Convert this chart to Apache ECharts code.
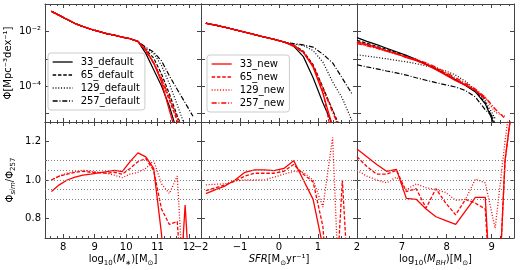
<!DOCTYPE html>
<html>
<head>
<meta charset="utf-8">
<script src="https://cdn.jsdelivr.net/npm/echarts@6/dist/echarts.min.js"></script>
<style>
html,body{margin:0;padding:0;background:#fff;}
#main{width:520px;height:270px;}
</style>
</head>
<body>
<div id="main"></div>
<script>
// bin centres
var xMstar = [7.625, 7.875, 8.125, 8.375, 8.625, 8.875, 9.125, 9.375, 9.625, 9.875, 10.125, 10.375, 10.625, 10.875, 11.125, 11.375, 11.625, 11.875, 12.125];
var xSfr = [-1.875, -1.625, -1.375, -1.125, -0.875, -0.625, -0.375, -0.125, 0.125, 0.375, 0.625, 0.875, 1.125, 1.375, 1.625, 1.875];
var xMbh = [6.0, 6.22, 6.44, 6.66, 6.88, 7.10, 7.32, 7.54, 7.76, 7.98, 8.20, 8.42, 8.64, 8.86, 9.08, 9.30, 9.52];

// log10 Phi, stellar mass function
var mstarDefault33  = [-1.25, -1.40, -1.55, -1.70, -1.81, -1.91, -1.99, -2.07, -2.13, -2.20, -2.26, -2.36, -2.80, -3.40, -4.00, -4.75, -5.70, null, null];
var mstarDefault65  = [-1.25, -1.40, -1.55, -1.70, -1.81, -1.91, -1.99, -2.07, -2.13, -2.20, -2.26, -2.36, -2.66, -2.97, -3.56, -4.30, -5.10, -5.80, null];
var mstarDefault129 = [-1.25, -1.40, -1.55, -1.70, -1.81, -1.91, -1.99, -2.07, -2.13, -2.20, -2.26, -2.36, -2.62, -2.80, -3.25, -3.92, -4.70, -5.50, null];
var mstarDefault257 = [-1.25, -1.40, -1.55, -1.70, -1.81, -1.91, -1.99, -2.07, -2.13, -2.20, -2.26, -2.36, -2.58, -2.75, -3.08, -3.63, -4.13, -4.62, -5.12];
var mstarNew33  = [-1.25, -1.40, -1.55, -1.70, -1.81, -1.91, -1.99, -2.07, -2.13, -2.20, -2.26, -2.36, -2.67, -3.15, -3.86, -4.90, -5.90, null, null];
var mstarNew65  = [-1.25, -1.40, -1.55, -1.70, -1.81, -1.91, -1.99, -2.07, -2.13, -2.20, -2.26, -2.36, -2.675, -3.15, -3.79, -4.53, -5.30, -6.00, null];
var mstarNew129 = [-1.25, -1.40, -1.55, -1.70, -1.81, -1.91, -1.99, -2.07, -2.13, -2.20, -2.26, -2.36, -2.695, -3.13, -3.73, -4.45, -5.19, -5.90, null];
var mstarNew257 = [-1.25, -1.40, -1.55, -1.70, -1.81, -1.91, -1.99, -2.07, -2.13, -2.20, -2.26, -2.36, -2.72, -3.17, -3.72, -4.42, -5.20, -5.95, null];

// log10 Phi, SFR function
var sfrDefault33  = [-1.69, -1.76, -1.84, -1.93, -2.02, -2.11, -2.20, -2.28, -2.38, -2.53, -2.92, -3.70, -4.62, -5.45, null, null];
var sfrDefault65  = [-1.69, -1.76, -1.84, -1.93, -2.02, -2.11, -2.20, -2.28, -2.38, -2.50, -2.72, -3.22, -4.05, -4.90, -5.70, null];
var sfrDefault129 = [-1.69, -1.76, -1.84, -1.93, -2.02, -2.11, -2.20, -2.28, -2.38, -2.46, -2.51, -2.70, -3.12, -3.85, -4.46, -5.30];
var sfrDefault257 = [-1.69, -1.76, -1.84, -1.93, -2.02, -2.11, -2.20, -2.28, -2.38, -2.44, -2.49, -2.57, -2.83, -3.15, -3.72, -4.30];
var sfrNew33  = [-1.69, -1.76, -1.84, -1.93, -2.02, -2.11, -2.20, -2.28, -2.38, -2.50, -2.76, -3.31, -4.27, -5.50, null, null];
var sfrNew65  = [-1.69, -1.76, -1.84, -1.93, -2.02, -2.11, -2.20, -2.28, -2.38, -2.51, -2.75, -3.265, -4.20, -5.98, -5.75, null];
var sfrNew129 = [-1.69, -1.76, -1.84, -1.93, -2.02, -2.11, -2.20, -2.28, -2.38, -2.52, -2.74, -3.26, -4.145, -4.89, -6.00, null];
var sfrNew257 = [-1.69, -1.76, -1.84, -1.93, -2.02, -2.11, -2.20, -2.28, -2.38, -2.54, -2.76, -3.26, -4.08, -4.98, -5.75, null];

// log10 Phi, BH mass function
var bhDefault33  = [-2.22, -2.36, -2.48, -2.61, -2.74, -2.87, -3.03, -3.20, -3.38, -3.58, -3.78, -3.98, -4.22, -4.66, -5.50, null, null];
var bhDefault65  = [-2.32, -2.43, -2.54, -2.65, -2.77, -2.89, -3.03, -3.19, -3.37, -3.56, -3.76, -3.96, -4.20, -4.62, -5.40, null, null];
var bhDefault129 = [-2.85, -2.90, -2.95, -3.00, -3.06, -3.11, -3.18, -3.26, -3.35, -3.45, -3.60, -3.83, -4.15, -4.55, -5.20, null, null];
var bhDefault257 = [-3.22, -3.30, -3.37, -3.45, -3.52, -3.60, -3.70, -3.79, -3.88, -3.96, -4.04, -4.17, -4.41, -4.88, -5.20, null, null];
var bhNew33  = [-2.38, -2.47, -2.58, -2.70, -2.81, -2.96, -3.07, -3.22, -3.40, -3.60, -3.81, -3.98, -4.16, -4.46, null, -5.16, null];
var bhNew65  = [-2.39, -2.49, -2.60, -2.71, -2.81, -2.95, -3.04, -3.22, -3.33, -3.56, -3.79, -3.95, -4.18, -4.49, null, -5.16, null];
var bhNew129 = [-2.42, -2.51, -2.61, -2.73, -2.82, -2.94, -3.03, -3.17, -3.33, -3.53, -3.75, -3.95, -4.12, -4.43, -4.97, -5.12, null];
var bhNew257 = [-2.44, -2.52, -2.61, -2.72, -2.83, -2.92, -3.02, -3.15, -3.31, -3.50, -3.70, -3.90, -4.12, -4.42, -4.85, -5.20, null];

// Phi_sim / Phi_257
var ratioMstar33  = [0.94, 0.975, 1.00, 1.015, 1.025, 1.03, 1.037, 1.043, 1.05, 1.043, 1.095, 1.14, 1.12, 1.06, 0.72, 0.0, 0.2, 0.87, 0.2];
var ratioMstar65  = [1.00, 1.02, 1.03, 1.04, 1.045, 1.04, 1.038, 1.035, 1.04, 1.03, 1.06, 1.095, 1.11, 1.05, 0.85, 0.77, 0.785, 0.2, null];
var ratioMstar129 = [1.00, 1.02, 1.035, 1.045, 1.05, 1.045, 1.04, 1.035, 1.025, 1.012, 1.03, 1.04, 1.06, 1.10, 0.98, 0.93, 1.02, 0.3, null];
var ratioSfr33  = [0.93, 0.95, 0.97, 1.00, 1.04, 1.052, 1.052, 1.048, 1.06, 1.10, 1.00, 0.90, 0.655, 0.2, null, null];
var ratioSfr65  = [0.945, 0.96, 0.975, 0.995, 1.02, 1.035, 1.035, 1.035, 1.045, 1.08, 1.03, 0.99, 0.76, 0.1, 1.0, 0.1];
var ratioSfr129 = [0.975, 0.978, 0.98, 0.995, 1.0, 1.0, 1.0, 1.015, 1.03, 1.045, 1.04, 1.0, 0.86, 1.22, 0.0, null];
var ratioBh33  = [1.16, 1.12, 1.08, 1.045, 1.055, 0.905, 0.90, 0.85, 0.81, 0.79, 0.77, 0.84, 0.91, 0.91, 0.0, 1.1, 1.5];
var ratioBh65  = [1.12, 1.07, 1.03, 1.03, 1.05, 0.94, 0.955, 0.855, 0.955, 0.88, 0.82, 0.90, 0.88, 0.85, 0.0, 1.1, 1.5];
var ratioBh129 = [1.05, 1.02, 1.00, 0.985, 1.015, 0.95, 0.98, 0.96, 0.95, 0.935, 0.895, 0.90, 1.005, 0.985, 0.75, 1.2, 1.6];

var refLevels = [0.9, 0.95, 1.0, 1.05, 1.1];

var defaultNames = ['33_default', '65_default', '129_default', '257_default'];
var newNames = ['33_new', '65_new', '129_new', '257_new'];

var FONT = 'DejaVu Sans';
var AXIS_COLOR = '#444';
var RED = '#ff0000';
var dashes = ['solid', [3.5, 1.8], [1, 1.8], [5, 1.8, 1, 1.8]];

var gridLeft = [45, 201, 357];
var gridWidth = [156, 156, 157];
var xRanges = [[7.42, 12.38], [-2, 2], [6, 9.5]];
var xSplit = [5, 5, 4];
var xHide = [null, null, 6];

var subStyle = {fontFamily: FONT, fontSize: 7, lineHeight: 8, verticalAlign: 'bottom', color: '#000'};
var subItStyle = {fontFamily: FONT, fontSize: 7, lineHeight: 8, verticalAlign: 'bottom', fontStyle: 'italic', color: '#000'};
var itStyle = {fontFamily: FONT, fontSize: 10, fontStyle: 'italic', color: '#000'};
var nameStyle = {fontFamily: FONT, fontSize: 10, color: '#000', lineHeight: 14,
	rich: {sub: subStyle, subi: subItStyle, it: itStyle}};

var xNames = [
	'log{sub|10}({it|M}{subi|\u2217})[M{sub|\u2299}]',
	'{it|SFR}[M{sub|\u2299}yr\u207b\u00b9]',
	'log{sub|10}({it|M}{subi|BH})[M{sub|\u2299}]'
];

function pairs(xs, ys){
	var out = [];
	for (var i = 0; i < xs.length; i++) {
		out.push([xs[i], ys[i]]);
	}
	return out;
}

function xLabel(hideVal){
	return function(v){
		var r = Math.round(v);
		if (Math.abs(v - r) > 1e-6 || r === hideVal) return '';
		return String(r).replace('-', '\u2212');
	};
}

function logLabel(v){
	if (Math.abs(v + 2) < 1e-6) return '10\u207b\u00b2';
	if (Math.abs(v + 4) < 1e-6) return '10\u207b\u2074';
	return '';
}

// labels only on 0.8, 1.0, 1.2
function ratioLabel(v){
	var r = Math.round(v * 5) / 5;
	if (Math.abs(v - r) > 1e-6 || v < 0.75 || v > 1.25) return '';
	return r.toFixed(1);
}

function tickStyle(len){
	return {show: true, inside: true, length: len, lineStyle: {color: AXIS_COLOR, width: 1}};
}

var grids = [], xAxes = [], yAxes = [], series = [];

for (var row = 0; row < 2; row++) {
	for (var col = 0; col < 3; col++) {
		var g = row * 3 + col;
		grids.push({
			left: gridLeft[col], width: gridWidth[col],
			top: row === 0 ? 4 : 122, height: row === 0 ? 118 : 116
		});
		var xa = {
			gridIndex: g, type: 'value', min: xRanges[col][0], max: xRanges[col][1],
			splitNumber: xSplit[col],
			axisLine: {show: true, onZero: false, lineStyle: {color: AXIS_COLOR, width: 1}},
			axisTick: tickStyle(4),
			minorTick: {show: true, splitNumber: 5, length: 2, lineStyle: {color: AXIS_COLOR, width: 1}},
			splitLine: {show: false}
		};
		xAxes.push(Object.assign({}, xa, {
			position: 'bottom',
			axisLabel: {show: row === 1, margin: 4, fontSize: 10, fontFamily: FONT, color: '#000', formatter: xLabel(xHide[col])},
			name: row === 1 ? xNames[col] : '', nameLocation: 'middle', nameGap: 13, nameTextStyle: nameStyle
		}));
		xAxes.push(Object.assign({}, xa, {position: 'top', axisLabel: {show: false}}));

		var ya;
		if (row === 0) {
			ya = {
				gridIndex: g, type: 'value', min: -5.33, max: -0.98, splitNumber: 4,
				axisLine: {show: true, onZero: false, lineStyle: {color: AXIS_COLOR, width: 1}},
				axisTick: tickStyle(4), minorTick: {show: false}, splitLine: {show: false}
			};
		} else {
			ya = {
				gridIndex: g, type: 'value', min: 0.7, max: 1.3, splitNumber: 3,
				axisLine: {show: true, onZero: false, lineStyle: {color: AXIS_COLOR, width: 1}},
				axisTick: tickStyle(4),
				minorTick: {show: true, splitNumber: 2, length: 2, lineStyle: {color: AXIS_COLOR, width: 1}},
				splitLine: {show: false}
			};
		}
		yAxes.push(Object.assign({}, ya, {
			position: 'left',
			axisLabel: {show: col === 0, margin: 4, fontSize: 10, fontFamily: FONT, color: '#000',
				formatter: row === 0 ? logLabel : ratioLabel},
			name: col === 0 ? (row === 0 ? '\u03a6[Mpc\u207b\u00b3dex\u207b\u00b9]' : '\u03a6{subi|sim}/\u03a6{sub|257}') : '',
			nameLocation: 'middle', nameGap: 28, nameTextStyle: nameStyle
		}));
		yAxes.push(Object.assign({}, ya, {position: 'right', axisLabel: {show: false}}));
	}
}

function addLine(name, xs, ys, g, color, dash, width, z){
	var s = {
		name: name, type: 'line', xAxisIndex: g * 2, yAxisIndex: g * 2,
		data: pairs(xs, ys), symbol: 'none', showSymbol: false, silent: true,
		connectNulls: false, clip: true, z: z,
		lineStyle: {color: color, width: width, type: dash},
		itemStyle: {color: color}
	};
	series.push(s);
	return s;
}

var topPanels = [
	{x: xMstar, def: [mstarDefault33, mstarDefault65, mstarDefault129, mstarDefault257], nw: [mstarNew33, mstarNew65, mstarNew129, mstarNew257]},
	{x: xSfr, def: [sfrDefault33, sfrDefault65, sfrDefault129, sfrDefault257], nw: [sfrNew33, sfrNew65, sfrNew129, sfrNew257]},
	{x: xMbh, def: [bhDefault33, bhDefault65, bhDefault129, bhDefault257], nw: [bhNew33, bhNew65, bhNew129, bhNew257]}
];
var ratioPanels = [
	{x: xMstar, r: [ratioMstar33, ratioMstar65, ratioMstar129]},
	{x: xSfr, r: [ratioSfr33, ratioSfr65, ratioSfr129]},
	{x: xMbh, r: [ratioBh33, ratioBh65, ratioBh129]}
];

for (var c = 0; c < 3; c++) {
	var p = topPanels[c];
	for (var k = 0; k < 4; k++) {
		addLine(defaultNames[k], p.x, p.def[k], c, '#000', dashes[k], 1.2, 2);
	}
	for (var k2 = 0; k2 < 4; k2++) {
		addLine(newNames[k2], p.x, p.nw[k2], c, RED, dashes[k2], 1.3, 3);
	}
	var rp = ratioPanels[c];
	for (var j = 0; j < 3; j++) {
		var s = addLine(newNames[j] + '_ratio', rp.x, rp.r[j], 3 + c, RED, dashes[j], 1.3, 3);
		if (j === 0) {
			s.markLine = {
				silent: true, symbol: 'none', animation: false,
				label: {show: false},
				lineStyle: {color: '#808080', type: [1, 2], width: 1},
				data: refLevels.map(function(v){ return {yAxis: v}; })
			};
		}
	}
}

var legendBase = {
	orient: 'vertical', itemWidth: 20, itemHeight: 10, itemGap: 3,
	padding: [4, 5, 4, 4], borderColor: '#cccccc', borderWidth: 1, borderRadius: 3,
	backgroundColor: 'rgba(255,255,255,0.8)', selectedMode: false,
	itemStyle: {opacity: 0, borderWidth: 0},
	lineStyle: {width: 1.3},
	textStyle: {fontSize: 10, fontFamily: FONT, color: '#000', padding: [0, 0, 0, 3]}
};

var myChart = echarts.init(document.getElementById('main'), null, {renderer: 'canvas'});
var option = {
	animation: false,
	backgroundColor: '#fff',
	grid: grids,
	xAxis: xAxes,
	yAxis: yAxes,
	legend: [
		Object.assign({}, legendBase, {data: defaultNames, left: 48, top: 53}),
		Object.assign({}, legendBase, {data: newNames, left: 207, top: 55})
	],
	series: series
};
myChart.setOption(option);
</script>
</body>
</html>
